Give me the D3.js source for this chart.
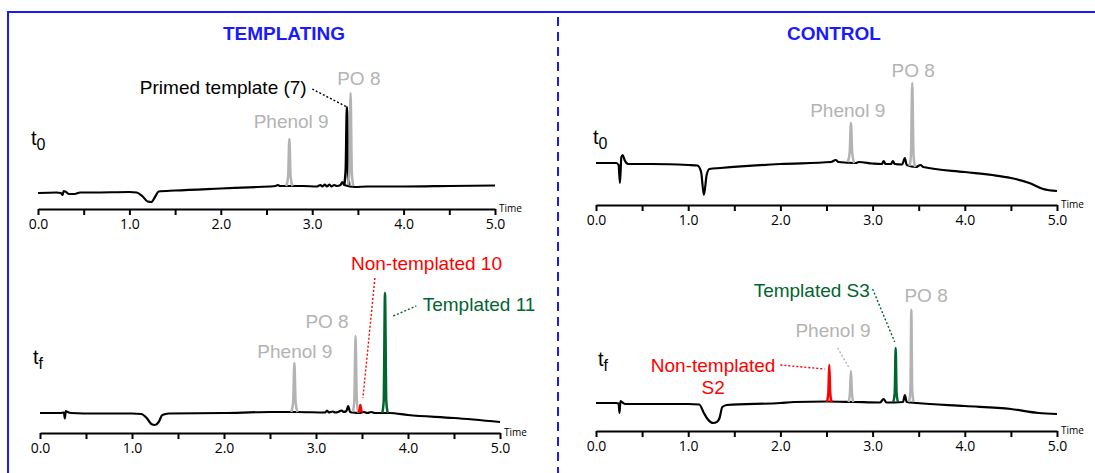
<!DOCTYPE html>
<html>
<head>
<meta charset="utf-8">
<script src="https://cdn.jsdelivr.net/npm/d3@7"></script>
<style>
  body { margin: 0; background: #fff; }
  svg { display: block; }
</style>
</head>
<body>
<svg id="chart"></svg>
<script>
// ---- data (time in min, signal in arbitrary units) ----
var timeTicks = [0, 0.5, 1, 1.5, 2, 2.5, 3, 3.5, 4, 4.5, 5];
var sectionTitles = ["TEMPLATING", "CONTROL"];
var runLabels = ["0", "f", "0", "f"];

var traceTemplT0 = [[0.00,16],[0.20,16.5],[0.25,16],[0.27,14],[0.28,18],[0.30,17.5],[0.34,15],[0.40,15],[0.46,16.5],[0.60,16.5],[1.00,17],[1.08,16.5],[1.14,13],[1.20,7.5],[1.24,7],[1.28,12],[1.32,17.5],[1.50,18.5],[2.00,20.5],[2.40,22],[2.60,23],[2.62,24],[2.65,23],[2.90,23],[3.05,22.5],[3.09,24],[3.11,22.5],[3.14,24.5],[3.16,22.5],[3.19,24.5],[3.21,22.5],[3.24,24],[3.27,23],[3.31,24],[3.33,27],[3.35,24],[3.47,22],[3.60,22.5],[4.00,22.5],[4.50,23],[5.00,23.5]];
var traceTemplTf = [[0.00,20],[0.22,20],[0.26,20.5],[0.27,14.5],[0.28,22],[0.30,21],[0.34,20],[0.60,19.5],[1.00,19.5],[1.10,19],[1.16,15],[1.21,9],[1.25,8],[1.29,11],[1.33,18],[1.40,19.5],[2.00,20],[2.50,21],[2.80,21],[3.10,20.5],[3.12,22.5],[3.14,20.5],[3.18,21.5],[3.21,20.5],[3.24,21],[3.28,22.5],[3.30,21],[3.33,22],[3.35,27],[3.37,21],[3.40,20.5],[3.47,20],[3.52,21],[3.56,20],[3.60,21],[3.64,20],[3.80,20],[4.00,18],[4.50,15],[5.00,11]];
var traceCtrlT0 = [[0.00,42],[0.22,42],[0.245,40],[0.26,22],[0.275,48],[0.29,50],[0.31,45],[0.35,41],[0.60,41],[1.00,40],[1.10,39.5],[1.14,33],[1.17,10],[1.20,30],[1.23,36],[1.35,37],[2.00,41],[2.55,43],[2.60,45],[2.63,43],[2.82,42],[2.85,43],[3.00,41.5],[3.10,41],[3.12,44],[3.14,41],[3.20,41],[3.22,44],[3.24,41],[3.32,40.5],[3.35,47],[3.37,40],[3.47,38],[3.52,40],[3.55,38],[4.00,33],[4.30,30],[4.50,27],[4.70,22],[4.85,16],[5.00,14]];
var traceCtrlTf = [[0.00,28],[0.22,28],[0.245,27.5],[0.255,18],[0.265,30],[0.28,29],[0.32,27],[0.60,27],[1.00,27],[1.12,26.5],[1.17,18],[1.21,12],[1.27,8],[1.31,9],[1.34,13],[1.37,24],[1.42,26],[2.00,28],[2.15,29],[2.50,29.5],[2.80,29],[3.08,28.5],[3.12,32],[3.15,28.5],[3.33,29],[3.35,36],[3.37,29],[3.48,28],[4.00,25],[4.50,22],[4.80,18],[5.00,17]];

// peaks: [time, signal] points of each coloured peak
var phenolTemplT0 = [[2.715,23],[2.736,32],[2.75,70],[2.764,32],[2.785,23]];
var primedTemplT0 = [[3.35,24],[3.367,40],[3.38,102],[3.39,45],[3.405,24]];
var poTemplT0     = [[3.39,24],[3.406,36],[3.42,116],[3.434,36],[3.45,23]];

var phenolTemplTf = [[2.73,21],[2.751,30],[2.765,70],[2.779,30],[2.80,21]];
var poTemplTf     = [[3.40,21],[3.416,32],[3.43,97],[3.444,32],[3.46,20.5]];
var nonTemplTf    = [[3.465,20.5],[3.475,24],[3.482,28],[3.49,24],[3.50,20.5]];
var templTf       = [[3.72,20],[3.736,32],[3.75,140],[3.764,32],[3.78,20]];

var phenolCtrlT0  = [[2.73,43],[2.751,52],[2.765,82],[2.779,52],[2.80,42]];
var poCtrlT0      = [[3.40,39],[3.416,50],[3.43,122],[3.444,50],[3.46,38]];

var nonTemplCtrlTf = [[2.505,29],[2.52,38],[2.53,66],[2.54,38],[2.555,29]];
var phenolCtrlTf   = [[2.74,29],[2.754,38],[2.765,60],[2.776,38],[2.79,29]];
var templCtrlTf    = [[3.225,29],[3.24,38],[3.25,83],[3.26,38],[3.275,29]];
var poCtrlTf       = [[3.395,29],[3.41,40],[3.42,121],[3.43,40],[3.445,29]];

// ---- styles ----
var BLUE = "#1a1aff", GREY = "#b3b3b3", RED = "#ff0000", GREEN = "#00652e";
var LABEL_FONT = "'Liberation Sans', Arial, sans-serif";
var TICK_FONT = "'Open Sans', 'DejaVu Sans', sans-serif";

var W = 1095, H = 473;
var svg = d3.select("#chart").attr("width", W).attr("height", H);

// frame
svg.append("line").attr("x1", 8).attr("x2", W).attr("y1", 12).attr("y2", 12)
  .attr("stroke", BLUE).attr("stroke-width", 2);
svg.append("line").attr("x1", 8).attr("x2", 8).attr("y1", 11).attr("y2", H)
  .attr("stroke", BLUE).attr("stroke-width", 2);
svg.append("line").attr("x1", 558).attr("x2", 558).attr("y1", 17).attr("y2", H)
  .attr("stroke", BLUE).attr("stroke-width", 2).attr("stroke-dasharray", "9,6");

[284, 834].forEach(function(cx, i) {
  svg.append("text").attr("x", cx).attr("y", 40)
    .attr("text-anchor", "middle").attr("fill", BLUE)
    .style("font-family", LABEL_FONT).style("font-weight", "bold").style("font-size", "19px")
    .text(sectionTitles[i]);
});

var panels = [
  { x0: 38, x1: 495, axisY: 209, tx: 31, ty: 145, run: runLabels[0],
    trace: traceTemplT0,
    peaks: [[phenolTemplT0, GREY], [primedTemplT0, "#000"], [poTemplT0, GREY]],
    labels: [["Primed template (7)", 2.94, 115, "#000", "end"],
             ["PO 8", 3.51, 124, GREY, "middle"],
             ["Phenol 9", 2.77, 81, GREY, "middle"]],
    leaders: [[[3.00, 120], [3.38, 102], "#000"]] },
  { x0: 40, x1: 500, axisY: 433, tx: 33, ty: 364, run: runLabels[1],
    trace: traceTemplTf,
    peaks: [[phenolTemplTf, GREY], [poTemplTf, GREY], [nonTemplTf, RED], [templTf, GREEN]],
    labels: [["Non-templated 10", 3.38, 163, RED, "start"],
             ["Templated 11", 4.16, 122, GREEN, "start"],
             ["PO 8", 3.12, 105, GREY, "middle"],
             ["Phenol 9", 2.77, 75, GREY, "middle"]],
    leaders: [[[3.64, 155], [3.51, 35], RED], [[3.84, 117], [4.09, 127], GREEN]] },
  { x0: 596, x1: 1057, axisY: 205, tx: 593, ty: 144, run: runLabels[2],
    trace: traceCtrlT0,
    peaks: [[phenolCtrlT0, GREY], [poCtrlT0, GREY]],
    labels: [["PO 8", 3.44, 128, GREY, "middle"],
             ["Phenol 9", 2.73, 88, GREY, "middle"]],
    leaders: [] },
  { x0: 596, x1: 1057, axisY: 431, tx: 598, ty: 366, run: runLabels[3],
    trace: traceCtrlTf,
    peaks: [[nonTemplCtrlTf, RED], [phenolCtrlTf, GREY], [templCtrlTf, GREEN], [poCtrlTf, GREY]],
    labels: [["Templated S3", 2.34, 134, GREEN, "middle"],
             ["PO 8", 3.58, 129, GREY, "middle"],
             ["Phenol 9", 2.57, 94, GREY, "middle"],
             ["Non-templated", 1.27, 59, RED, "middle"],
             ["S2", 1.27, 37, RED, "middle"]],
    leaders: [[[3.00, 142], [3.24, 89], GREEN], [[2.62, 83], [2.74, 64], GREY], [[2.00, 66], [2.48, 62], RED]] }
];

panels.forEach(function(p) {
  var x = d3.scaleLinear().domain([0, 5]).range([p.x0, p.x1]);
  var y = d3.scaleLinear().domain([0, 200]).range([p.axisY, p.axisY - 200]);
  var line = d3.line().x(function(d) { return x(d[0]); }).y(function(d) { return y(d[1]); })
    .curve(d3.curveMonotoneX);
  var g = svg.append("g");

  // axis
  var ax = g.append("g").attr("transform", "translate(0," + p.axisY + ")")
    .call(d3.axisBottom(x).tickValues(timeTicks).tickSize(6).tickSizeOuter(0).tickPadding(4)
      .tickFormat(function(d) { return d % 1 === 0 ? d.toFixed(1) : ""; }));
  ax.select(".domain").attr("stroke-width", 2.2);
  ax.selectAll(".tick line").attr("stroke-width", 2);
  ax.selectAll(".tick text").style("font-family", TICK_FONT).style("font-size", "14px").attr("fill", "#000");
  g.append("text").attr("x", p.x1 + 4).attr("y", p.axisY + 3)
    .style("font-family", TICK_FONT).style("font-size", "10px").text("Time");

  // trace + peaks
  g.append("path").datum(p.trace).attr("d", line)
    .attr("fill", "none").attr("stroke", "#000").attr("stroke-width", 2.2).attr("stroke-linejoin", "round");
  p.peaks.forEach(function(pk) {
    g.append("path").datum(pk[0]).attr("d", line)
      .attr("fill", "none").attr("stroke", pk[1]).attr("stroke-width", 2.5).attr("stroke-linejoin", "round");
  });

  // leaders
  p.leaders.forEach(function(l) {
    g.append("line").attr("x1", x(l[0][0])).attr("y1", y(l[0][1]))
      .attr("x2", x(l[1][0])).attr("y2", y(l[1][1]))
      .attr("stroke", l[2]).attr("stroke-width", 1.4).attr("stroke-dasharray", "2,2");
  });

  // labels
  p.labels.forEach(function(lb) {
    g.append("text").attr("x", x(lb[1])).attr("y", y(lb[2]))
      .attr("text-anchor", lb[4]).attr("fill", lb[3])
      .style("font-family", LABEL_FONT).style("font-size", "19px")
      .text(lb[0]);
  });

  // t0 / tf
  var t = g.append("text").attr("x", p.tx).attr("y", p.ty)
    .style("font-family", LABEL_FONT).style("font-size", "20px").attr("fill", "#000");
  t.append("tspan").text("t");
  t.append("tspan").attr("dy", 5).style("font-size", "16px").text(p.run);
});
</script>
</body>
</html>
